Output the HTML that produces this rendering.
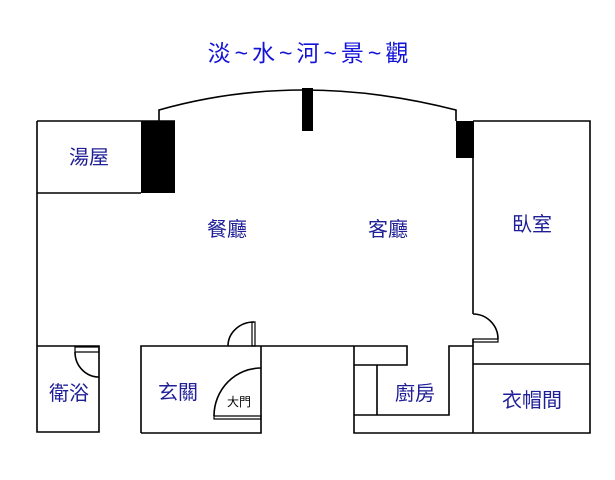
<!DOCTYPE html>
<html><head><meta charset="utf-8"><style>
html,body{margin:0;padding:0;background:#fff;}
svg{display:block}
text{font-family:"Liberation Sans","Noto Sans CJK TC",sans-serif;}
</style></head><body>
<svg width="615" height="480" viewBox="0 0 615 480" xmlns="http://www.w3.org/2000/svg">
<text x="310" y="61" text-anchor="middle" font-size="23" letter-spacing="4" fill="#1414d8">淡~水~河~景~觀</text>
<g stroke="#000" stroke-width="1.6" fill="none">
<path d="M37 121 H175 M37 121 V432 H99 V346 H37 M37 193 H141"/>
<path d="M159 121 V110 Q300 70 456 110 V121"/>
<path d="M473 121 H590 V433 H354 V346 M473 157 V314 M473 339 V433 M473 364 H590"/>
<path d="M228 346 H354 M141 433 V346 H228 M261 346 V433 H141"/>
<path d="M354 365 H407 V346 H354 M377 365 V415 M354 415 H449 V346 H473"/>
<path d="M228 346 A26 24 0 0 1 254 322"/>
<path d="M214 416 A47 48 0 0 1 261 368"/>
<path d="M75 352 A24 25 0 0 0 99 377"/>
<path d="M473 314 A25 25 0 0 1 498 339"/>
<path d="M75 347 H99 V352 H75 Z" stroke-width="1.2"/>
<path d="M252 322 H255 V346 H252 Z" stroke-width="1.2"/>
<path d="M214 416 H261 V419 H214 Z" stroke-width="1.2"/>
<path d="M473 339 H498 V342 H473 Z" stroke-width="1.2"/>
</g>
<rect x="141" y="121" width="34" height="72" fill="#000"/>
<rect x="302" y="88" width="11" height="43" fill="#000"/>
<rect x="456" y="121" width="18" height="37" fill="#000"/>
<g font-size="20" fill="#1e1e96" text-anchor="middle">
<text x="89" y="164">湯屋</text>
<text x="227" y="236">餐廳</text>
<text x="388" y="236">客廳</text>
<text x="532" y="231">臥室</text>
<text x="69" y="400">衛浴</text>
<text x="178" y="399">玄關</text>
<text x="415" y="400">廚房</text>
<text x="532" y="407">衣帽間</text>
</g>
<text x="239" y="406" font-size="12" text-anchor="middle" fill="#000">大門</text>
</svg>
</body></html>
